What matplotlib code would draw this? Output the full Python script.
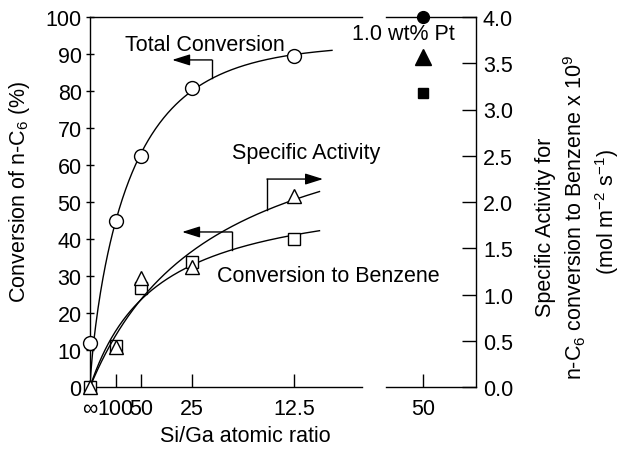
import numpy as np
import matplotlib
matplotlib.use("Agg")
import matplotlib.pyplot as plt

plt.rcParams['font.family'] = ['Liberation Sans', 'DejaVu Sans']
plt.rcParams['mathtext.fontset'] = 'custom'
plt.rcParams['mathtext.rm'] = 'Liberation Sans'
plt.rcParams['mathtext.it'] = 'Liberation Sans'
plt.rcParams['font.size'] = 15.5

# Si/Ga ratio -> x = 1/ratio (inf -> 0)
ratio_x = [0.0, 0.01, 0.02, 0.04, 0.08]
tick_labels = ['∞', '100', '50', '25', '12.5']
total_conv = [11.9, 45.0, 62.4, 80.8, 89.5]        # %, left axis
benzene_conv = [0.0, 11.1, 26.8, 33.8, 40.0]       # %, left axis
spec_act = [0.0, 0.43, 1.18, 1.30, 2.07]           # x1e9, right axis

# 1.0 wt% Pt sample, Si/Ga = 50
pt_x = [0.02]
pt_total = [100.0]
pt_benzene = [79.5]
pt_spec = [3.57]


def fit_langmuir(x, y):
    x = np.asarray(x)
    y = np.asarray(y)
    best = None
    for b in np.logspace(-4, 0, 2000):
        g = x / (b + x)
        a = np.sum(y * g) / np.sum(g * g)
        err = np.sum((a * g - y) ** 2)
        if best is None or err < best[0]:
            best = (err, a, b)
    _, a, b = best
    return lambda t: a * t / (b + t)


def fit_stretched(x, y):
    # y = a (1 - exp(-(x/b)^n))
    x = np.asarray(x)
    y = np.asarray(y)
    best = None
    for n in np.linspace(0.5, 1.5, 41):
        for b in np.logspace(-3, -1, 600):
            g = 1 - np.exp(-(x / b) ** n)
            a = np.sum(y * g) / np.sum(g * g)
            err = np.sum((a * g - y) ** 2)
            if best is None or err < best[0]:
                best = (err, a, b, n)
    _, a, b, n = best
    return lambda t: a * (1 - np.exp(-(t / b) ** n))


f_total = fit_stretched(ratio_x[1:], total_conv[1:])
f_benz = fit_langmuir(ratio_x, benzene_conv)
f_spec = fit_langmuir(ratio_x, spec_act)

fig = plt.figure(figsize=(6.23, 4.52), dpi=100)
L, B, T = 90 / 623, 1 - 388 / 452, 1 - 18 / 452
ax1 = fig.add_axes([L, B, (362 - 90) / 623, T - B])
ax2 = fig.add_axes([386 / 623, B, (476 - 386) / 623, T - B])
ax2.patch.set_visible(False)
ax1r = ax1.twinx()
ax2r = ax2.twinx()

k = 2550.0  # px per unit of 1/ratio
ax1.set_xlim(0, 272 / k)
ax2.set_xlim(0.02 - 37 / k, 0.02 + 53 / k)
for a in (ax1, ax2):
    a.set_ylim(0, 100)
for a in (ax1r, ax2r):
    a.set_ylim(0, 4)

lw = 1.0
for sp in ax1.spines.values():
    sp.set_linewidth(lw)
for sp in ax2.spines.values():
    sp.set_linewidth(lw)
ax1.spines['right'].set_visible(False)
ax1r.spines[:].set_visible(False)
ax2.spines['left'].set_visible(False)
ax2r.spines[:].set_visible(False)

# curves
t1 = np.linspace(0, 0.0949, 300)
t2 = np.linspace(0, 0.090, 300)
ax1.plot(t1, f_total(t1), color='black', lw=1.0, zorder=2)
ax1.plot(t2, f_benz(t2), color='black', lw=1.0, zorder=2)
ax1r.plot(t2, f_spec(t2), color='black', lw=1.0, zorder=2)

# markers
ax1r.plot(ratio_x, spec_act, linestyle='none', marker='^', ms=10.5, mfc='white',
          mec='black', mew=1.0, clip_on=False, zorder=3)
ax1.plot(ratio_x, benzene_conv, linestyle='none', marker='s', ms=8, mfc='white',
         mec='black', mew=1.0, clip_on=False, zorder=3)
ax1.plot(ratio_x, total_conv, linestyle='none', marker='o', ms=10, mfc='white',
         mec='black', mew=1.0, clip_on=False, zorder=3)

ax2.plot(pt_x, pt_total, linestyle='none', marker='o', ms=8.5, color='black', clip_on=False)
ax2.plot(pt_x, pt_benzene, linestyle='none', marker='s', ms=7.5, color='black', clip_on=False)
ax2r.plot(pt_x, pt_spec, linestyle='none', marker='^', ms=11.5, color='black', clip_on=False)

# ticks
ax1.set_xticks(ratio_x)
ax1.set_xticklabels(tick_labels)
ax1.tick_params(axis='x', direction='in', length=9.5, width=1.0, pad=8)
ax1.xaxis.get_major_ticks()[0].tick1line.set_visible(False)
ax1.set_yticks(np.arange(0, 101, 10))
ax1.tick_params(axis='y', direction='inout', length=6, width=1.0, pad=3)
ax1r.set_yticks([])

ax2.set_xticks(pt_x)
ax2.set_xticklabels(['50'])
ax2.tick_params(axis='x', direction='in', length=9.5, width=1.0, pad=8)
ax2.set_yticks([])
ax2r.set_yticks(np.arange(0, 4.01, 0.5))
ax2r.set_yticklabels([f'{v:.1f}' for v in np.arange(0, 4.01, 0.5)])
ax2r.tick_params(axis='y', direction='in', length=10, width=1.0, pad=5)

# labels
fig.text(20 / 623, 1 - 192 / 452, 'Conversion of n-C$_6$ (%)', rotation=90,
         ha='center', va='center')
fig.text(245 / 623, 1 - 437 / 452, 'Si/Ga atomic ratio', ha='center', va='center')
fig.text(546 / 623, 1 - 227 / 452, 'Specific Activity for', rotation=90,
         ha='center', va='center')
fig.text(575 / 623, 1 - 217 / 452, 'n-C$_6$ conversion to Benzene x 10$^9$', rotation=90,
         ha='center', va='center')
fig.text(607 / 623, 1 - 212 / 452, '(mol m$^{-2}$ s$^{-1}$)', rotation=90,
         ha='center', va='center')

# annotations
ax1.text(0.0451, 92.7, 'Total Conversion', ha='center', va='center')
ax1.text(0.0557, 63.5, 'Specific Activity', ha='left', va='center')
ax1.text(0.0498, 30.0, 'Conversion to Benzene', ha='left', va='center', zorder=5)
ax2.text(0.02 + 32 / k, 95.5, '1.0 wt% Pt', ha='right', va='center')

arrow = dict(arrowstyle='-|>,head_length=0.7,head_width=0.22', color='black', lw=1.0,
             shrinkA=0, shrinkB=0)

xb = 0.0478
ax1.plot([xb, xb], [f_total(xb), 88.4], color='black', lw=1.0)
ax1.annotate('', xy=(0.0322, 88.4), xytext=(xb, 88.4), arrowprops=arrow)

xb = 0.0694
ax1.plot([xb, xb], [f_spec(xb) * 25, 56.2], color='black', lw=1.0)
ax1.annotate('', xy=(0.0914, 56.2), xytext=(xb, 56.2), arrowprops=arrow,
             annotation_clip=False)

xb = 0.0557
ax1.plot([xb, xb], [f_benz(xb), 41.9], color='black', lw=1.0)
ax1.annotate('', xy=(0.0361, 41.9), xytext=(xb, 41.9), arrowprops=arrow)

fig.savefig('out.png', dpi=100)
